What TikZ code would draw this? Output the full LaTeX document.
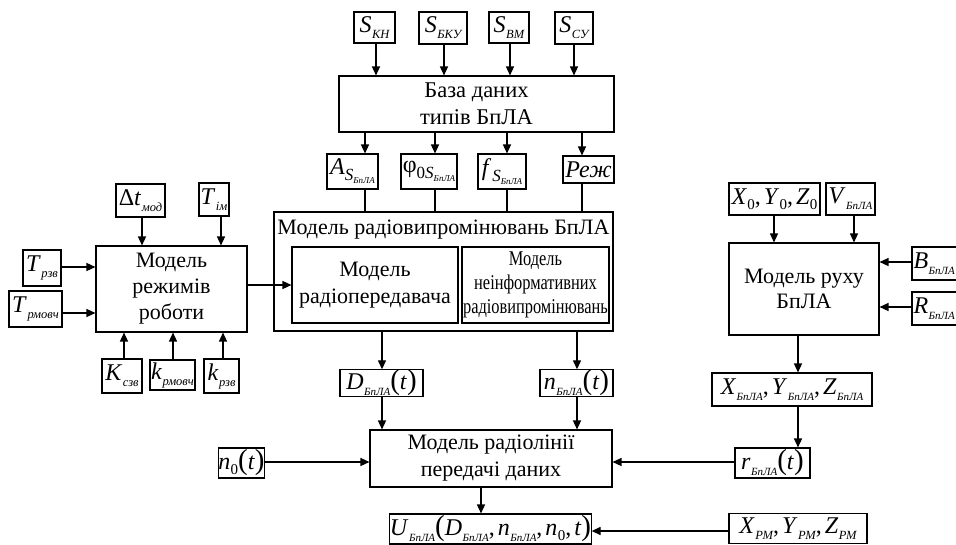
\documentclass[tikz,border=0pt]{standalone}
\usepackage{fontspec}
\setmainfont{Liberation Serif}
\usetikzlibrary{arrows.meta}
\newcommand\vI[1]{\textit{#1}}
\newcommand\lo[1]{\kern0.5pt\raisebox{-6pt}{\fontsize{12.5}{12}\selectfont\itshape #1}}
\newcommand\lb{\kern0.5pt\raisebox{-6pt}{\fontsize{11}{11}\selectfont\itshape БпЛА}}
\newcommand\lou[1]{\kern0.3pt\raisebox{-5pt}{\fontsize{15}{15}\selectfont #1}}
\newcommand\llo[1]{\raisebox{-3pt}{\fontsize{9}{9}\selectfont\itshape #1}}
\newcommand\sS[1]{\raisebox{-6pt}{\fontsize{17}{17}\selectfont #1\textit{S}\llo{БпЛА}}}
\newcommand\bp[1]{{\fontsize{29}{29}\selectfont #1}}
\newcommand\cm{,\kern3pt}
\tikzset{
  bx/.style={draw, line width=1.1pt, inner sep=0pt, align=center, font=\fontsize{24}{24}\selectfont},
  mbx/.style={draw, line width=1.1pt, inner sep=0pt, align=center, font=\fontsize{22}{26}\selectfont},
  arr/.style={line width=1.3pt, -{Triangle[length=9pt,width=8pt]}},
  ln/.style={line width=1.3pt}
}
\begin{document}
\begin{tikzpicture}[x=1pt,y=-1pt]
\clip (0,0) rectangle (956,544);
\fill[white] (0,0) rectangle (956,544);
% top inputs
\node[bx, minimum width=41, minimum height=31] (skn) at (374.5,27.5) {\vI{S}\lo{КН}};
\node[bx, minimum width=48, minimum height=32] (sbku) at (443,28) {\vI{S}\lo{БКУ}};
\node[bx, minimum width=40, minimum height=31] (svm) at (509,27.5) {\vI{S}\lo{ВМ}};
\node[bx, minimum width=38, minimum height=32] (ssu) at (574,28) {\vI{S}\lo{СУ}};
\node[mbx, minimum width=275, minimum height=56, font=\fontsize{22.5}{27}\selectfont] (db) at (476.5,104) {База даних\\типів БпЛА};
% parameter boxes
\node[bx, minimum width=51, minimum height=35] (pa) at (352.5,171.5) {\vI{A}\sS{}};
\node[bx, minimum width=56, minimum height=35] (pphi) at (429,171.5) {φ\sS{0}};
\node[bx, minimum width=48, minimum height=35] (pf) at (502,171.5) {\vI{f}\kern1pt\sS{}};
\node[bx, minimum width=51, minimum height=27] (prezh) at (588.5,169.5) {\vI{Реж}};
% radio emission model
\node[draw, line width=1.1pt, minimum width=339, minimum height=119, inner sep=0pt] (rad) at (443.5,271.5) {};
\node[font=\fontsize{22}{22}\selectfont, inner sep=0pt] (radt) at (443.5,230) {Модель радіовипромінювань БпЛА};
\node[mbx, minimum width=166, minimum height=76, font=\fontsize{22}{27}\selectfont] (inl) at (375,285) {Модель\\радіопередавача};
\node[mbx, minimum width=147, minimum height=76, font=\fontsize{21}{24}\selectfont] (inr) at (535.5,285) {\scalebox{0.78}[1]{Модель}\\\scalebox{0.78}[1]{неінформативних}\\\scalebox{0.78}[1]{радіовипромінювань}};
% left model
\node[bx, minimum width=49, minimum height=33] (dt) at (140.5,200.5) {Δ\vI{t}\lo{мод}};
\node[bx, minimum width=30, minimum height=33] (tim) at (214,199.5) {\vI{T}\lo{ім}};
\node[mbx, minimum width=151, minimum height=86] (mode) at (171.5,289) {Модель\\режимів\\роботи};
\node[bx, minimum width=38, minimum height=36] (trzv) at (42,268) {\vI{T}\lo{рзв}};
\node[bx, minimum width=53, minimum height=36] (trmovch) at (35.5,309) {\vI{T}\lo{рмовч}};
\node[bx, minimum width=40, minimum height=34] (ksz) at (122,376) {\vI{K}\lo{сзв}};
\node[bx, minimum width=45, minimum height=30] (krmovch) at (172.5,375) {\vI{k}\lo{рмовч}};
\node[bx, minimum width=35, minimum height=34] (krzv) at (221.5,376) {\vI{k}\lo{рзв}};
% right model
\node[bx, minimum width=91, minimum height=32] (xo) at (774.5,199) {\vI{X}\lou{0}\cm\vI{Y}\lou{0}\cm\vI{Z}\lou{0}};
\node[bx, minimum width=49, minimum height=32] (vb) at (850.5,199) {\vI{V}\lb};
\node[mbx, minimum width=150, minimum height=92, font=\fontsize{22}{25}\selectfont] (ruh) at (804,289) {Модель руху\\БпЛА};
\node[bx, minimum width=60, minimum height=33, text width=57, align=left] (bb) at (942,263.5) {\vI{B}\lb};
\node[bx, minimum width=60, minimum height=33, text width=57, align=left] (rb) at (942,308.5) {\vI{R}\lb};
\node[bx, minimum width=160, minimum height=33] (xyz) at (792,389.5) {\vI{X}\lb\cm\vI{Y}\lb\cm\vI{Z}\lb};
% outputs
\node[bx, minimum width=83, minimum height=26] (dd) at (381.5,383) {\vI{D}\lb\bp{(}\vI{t}\bp{)}};
\node[bx, minimum width=73, minimum height=26] (nn) at (576.5,383) {\vI{n}\lb\bp{(}\vI{t}\bp{)}};
\node[mbx, minimum width=242, minimum height=57, font=\fontsize{22}{27}\selectfont] (link) at (491,458.5) {Модель радіолінії\\передачі даних};
\node[bx, minimum width=46, minimum height=30] (nz) at (241.5,463) {\vI{n}\lou{0}\bp{(}\vI{t}\bp{)}};
\node[bx, minimum width=75, minimum height=30] (rt) at (772.5,463) {\vI{r}\lb\bp{(}\vI{t}\bp{)}};
\node[bx, minimum width=185, minimum height=30] (ub) at (490.5,529) {\vI{U}\lb\bp{(}\vI{D}\lb\cm\vI{n}\lb\cm\vI{n}\lou{0}\cm\vI{t}\bp{)}};
\node[bx, minimum width=138, minimum height=30] (xpm) at (798,528.5) {\vI{X}\lo{РМ}\cm\vI{Y}\lo{РМ}\cm\vI{Z}\lo{РМ}};
% connectors top
\draw[arr] (376,0 |- skn.south) -- (376,0 |- db.north);
\draw[arr] (444,0 |- sbku.south) -- (444,0 |- db.north);
\draw[arr] (510,0 |- svm.south) -- (510,0 |- db.north);
\draw[arr] (574,0 |- ssu.south) -- (574,0 |- db.north);
\draw[arr] (365,0 |- db.south) -- (365,0 |- pa.north);
\draw[arr] (435,0 |- db.south) -- (435,0 |- pphi.north);
\draw[arr] (507,0 |- db.south) -- (507,0 |- pf.north);
\draw[arr] (582,0 |- db.south) -- (582,0 |- prezh.north);
\draw[ln] (365,0 |- pa.south) -- (365,0 |- rad.north);
\draw[ln] (435,0 |- pphi.south) -- (435,0 |- rad.north);
\draw[ln] (507,0 |- pf.south) -- (507,0 |- rad.north);
\draw[ln] (582,0 |- prezh.south) -- (582,0 |- rad.north);
% left
\draw[arr] (142,0 |- dt.south) -- (142,0 |- mode.north);
\draw[arr] (221,0 |- tim.south) -- (221,0 |- mode.north);
\draw[arr] (trzv.east |- 0,267) -- (mode.west |- 0,267);
\draw[arr] (trmovch.east |- 0,313) -- (mode.west |- 0,313);
\draw[arr] (124,0 |- ksz.north) -- (124,0 |- mode.south);
\draw[arr] (173,0 |- krmovch.north) -- (173,0 |- mode.south);
\draw[arr] (223,0 |- krzv.north) -- (223,0 |- mode.south);
\draw[arr] (mode.east |- 0,285) -- (inl.west |- 0,285);
% right
\draw[arr] (774,0 |- xo.south) -- (774,0 |- ruh.north);
\draw[arr] (854,0 |- vb.south) -- (854,0 |- ruh.north);
\draw[arr] (bb.west |- 0,262) -- (ruh.east |- 0,262);
\draw[arr] (rb.west |- 0,307) -- (ruh.east |- 0,307);
\draw[arr] (798,0 |- ruh.south) -- (798,0 |- xyz.north);
\draw[arr] (798,0 |- xyz.south) -- (798,0 |- rt.north);
% bottom
\draw[arr] (382,0 |- rad.south) -- (382,0 |- dd.north);
\draw[arr] (577,0 |- rad.south) -- (577,0 |- nn.north);
\draw[arr] (382,0 |- dd.south) -- (382,0 |- link.north);
\draw[arr] (577,0 |- nn.south) -- (577,0 |- link.north);
\draw[arr] (nz.east |- 0,462) -- (link.west |- 0,462);
\draw[arr] (rt.west |- 0,462) -- (link.east |- 0,462);
\draw[arr] (481,0 |- link.south) -- (481,0 |- ub.north);
\draw[arr] (xpm.west |- 0,531) -- (ub.east |- 0,531);
\end{tikzpicture}
\end{document}
